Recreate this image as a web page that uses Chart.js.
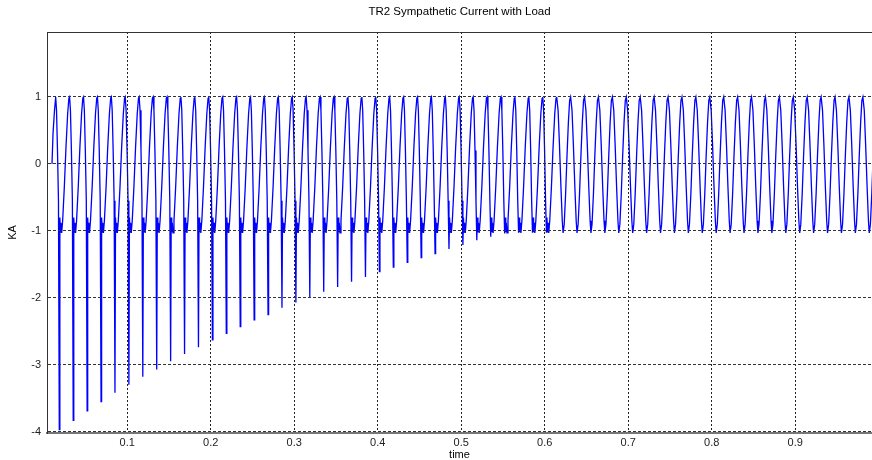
<!DOCTYPE html>
<html>
<head>
<meta charset="utf-8">
<title>TR2 Sympathetic Current with Load</title>
<script src="https://cdn.jsdelivr.net/npm/chart.js@4/dist/chart.umd.min.js"></script>
<style>
body{margin:0;background:#fff;}
canvas{display:block;}
</style>
</head>
<body>
<canvas id="chartCanvas" width="872" height="460"></canvas>
<script>
const xTickValues = [0.1, 0.2, 0.3, 0.4, 0.5, 0.6, 0.7, 0.8, 0.9];
const yTickValues = [-4, -3, -2, -1, 0, 1];

// first positive peak (s) and the 60 Hz cycle length
const firstPeak = 0.0144;
const period = 1 / 60;
const cycleCount = 60;

// rise into the first peak
const leadTime = [0.0100, 0.0112, 0.0130];
const leadValue = [0.00, 0.45, 0.80];

// deepest point of the inrush spike, one per cycle (kA)
const spikeDepth = [
    -3.97, -3.83, -3.69, -3.55, -3.42, -3.30, -3.18, -3.07, -2.95, -2.84,
    -2.74, -2.63, -2.53, -2.43, -2.33, -2.25, -2.15, -2.07, -1.99, -1.91,
    -1.84, -1.76, -1.69, -1.61, -1.54, -1.47, -1.40, -1.34, -1.27, -1.21,
    -1.14, -1.09, -1.04, -1.03, -1.03, -1.02
];

// one cycle while the spike is present; null marks the spike sample
const inrushPhase = [0.00, 0.06, 0.13, 0.20, 0.26, 0.30, 0.34, 0.38, 0.43, 0.50, 0.62, 0.74, 0.86, 0.95];
const inrushValue = [1.00, 0.80, 0.20, -0.55, null, -0.80, -1.02, -0.88, -1.03, -0.85, -0.35, 0.25, 0.75, 0.98];

// one cycle once the transient has died away
const steadyPhase = [0.00, 0.10, 0.20, 0.30, 0.40, 0.46, 0.54, 0.64, 0.74, 0.84, 0.93];
const steadyValue = [1.00, 0.80, 0.28, -0.32, -0.85, -1.03, -0.90, -0.45, 0.12, 0.62, 0.95];

function buildCurrent(){
    let pts = [];
    for(let i = 0; i < leadTime.length; i++){
        pts.push({x: leadTime[i], y: leadValue[i]});
    }
    for(let k = 0; k < cycleCount; k++){
        let t0 = firstPeak + k * period;
        let inrush = k < spikeDepth.length;
        let ph = inrush ? inrushPhase : steadyPhase;
        let val = inrush ? inrushValue : steadyValue;
        for(let j = 0; j < ph.length; j++){
            let y = val[j] === null ? spikeDepth[k] : val[j];
            pts.push({x: t0 + ph[j] * period, y: y});
        }
    }
    return pts;
}

// top edge of the axes box
const frameTop = {
    id: "frameTop",
    afterDraw(chart){
        const {ctx, chartArea} = chart;
        ctx.save();
        ctx.strokeStyle = "#333";
        ctx.lineWidth = 1;
        ctx.beginPath();
        ctx.moveTo(chartArea.left, chartArea.top + 0.5);
        ctx.lineTo(chartArea.right, chartArea.top + 0.5);
        ctx.stroke();
        ctx.restore();
    }
};

const font = {family: "'Liberation Sans', Arial, sans-serif", size: 11};

let ctx = document.getElementById("chartCanvas").getContext("2d");
let chartInstance = new Chart(ctx, {
    type: "line",
    data: {
        datasets: [{
            label: "TR2 current",
            data: buildCurrent(),
            borderColor: "#0000ff",
            borderWidth: 1.3,
            pointRadius: 0,
            tension: 0,
            fill: false
        }]
    },
    options: {
        responsive: false,
        animation: false,
        parsing: false,
        layout: {padding: {top: 0, right: 0, bottom: 0, left: 0}},
        plugins: {
            legend: {display: false},
            tooltip: {enabled: false},
            title: {
                display: true,
                text: "TR2 Sympathetic Current with Load",
                fullSize: false,
                color: "#000",
                font: {family: font.family, size: 11.5, weight: "normal", lineHeight: 1.2},
                padding: {top: 5, bottom: 13.2}
            }
        },
        scales: {
            x: {
                type: "linear",
                min: 0.004,
                max: 0.992,
                afterFit: s => { s.height = 27; },
                afterBuildTicks: s => { s.ticks = xTickValues.map(v => ({value: v})); },
                ticks: {
                    color: "#222",
                    font: font,
                    padding: 3,
                    maxRotation: 0,
                    autoSkip: false,
                    callback: v => v.toFixed(1),
                    z: 1
                },
                grid: {color: "#222", lineWidth: 1, drawTicks: false, z: 1},
                // dash here styles the vertical grid lines
                border: {display: true, color: "#777", width: 2, dash: [2, 2], z: 1},
                title: {
                    display: true,
                    text: "time",
                    color: "#000",
                    font: {family: font.family, size: 11, lineHeight: 1},
                    padding: {top: 0, bottom: 0}
                }
            },
            y: {
                type: "linear",
                min: -4.02,
                max: 1.97,
                afterFit: s => { s.width = 47; },
                afterBuildTicks: s => { s.ticks = yTickValues.map(v => ({value: v})); },
                ticks: {
                    color: "#222",
                    font: font,
                    padding: 6,
                    autoSkip: false,
                    callback: v => String(v),
                    z: 1
                },
                grid: {color: "#333", lineWidth: 1, drawTicks: false, z: 1},
                border: {display: true, color: "#333", width: 1, dash: [3, 2], z: 1},
                title: {
                    display: true,
                    text: "KA",
                    color: "#000",
                    font: {family: font.family, size: 11, lineHeight: 1.2},
                    padding: {top: 6, bottom: 0}
                }
            }
        }
    },
    plugins: [frameTop]
});
</script>
</body>
</html>
